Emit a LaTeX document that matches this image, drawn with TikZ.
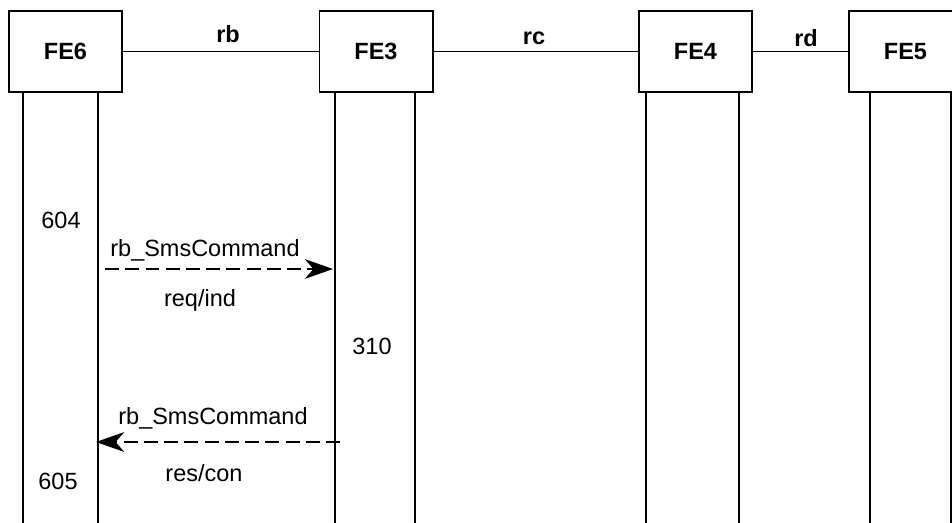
\documentclass[tikz,border=0pt]{standalone}
\usepackage{fontspec}
\setmainfont{Liberation Sans}
\usetikzlibrary{arrows.meta,positioning}
\newcommand{\fefont}{\fontsize{16.7pt}{20pt}\selectfont}
\tikzset{
  febox/.style={draw, line width=1.4pt, minimum width=2.825cm, minimum height=2.025cm,
                inner sep=0pt, font=\fefont\bfseries},
  ifline/.style={line width=1.4pt},
  iflabel/.style={font=\fefont\bfseries, anchor=base, inner sep=0pt},
  life/.style={line width=1.4pt},
  msg/.style={line width=1.4pt, dash pattern=on 9.8pt off 4.6pt,
              -{Stealth[length=20pt, width=14pt, inset=6pt]}},
  msgtxt/.style={font=\fefont, anchor=base, inner sep=0pt},
}

\begin{document}
\begin{tikzpicture}[x=0.025cm, y=-0.025cm]
\useasboundingbox (0,0) rectangle (952,523);

% --- Functional entities ---
\node[febox] (fe6) at (65.5,51.5) {FE6};
\node[febox] (fe3) at (376,51.5) {FE3};
\node[febox] (fe4) at (695.5,51.5) {FE4};
\node[febox] (fe5) at (905.5,51.5) {FE5};

% Relationships
\draw[ifline] (fe6.east) -- (fe3.west);
\draw[ifline] (fe3.east) -- (fe4.west);
\draw[ifline] (fe4.east) -- (fe5.west);
\node[iflabel] (rb) at (228,43) {rb};
\node[iflabel] (rc) at (534,45) {rc};
\node[iflabel] (rd) at (806,47) {rd};

% --- Lifelines ---
\coordinate (l6a) at (23,523);
\coordinate (l6b) at (98,523);
\coordinate (l3a) at (335,523);
\coordinate (l3b) at (415,523);
\coordinate (l4a) at (646,523);
\coordinate (l4b) at (739,523);
\coordinate (l5a) at (870,523);
\coordinate (l5b) at (951,523);
\foreach \fe/\l in {fe6/l6a, fe6/l6b, fe3/l3a, fe3/l3b, fe4/l4a, fe4/l4b, fe5/l5a, fe5/l5b}
  \draw[life] (\fe.south -| \l) -- (\l);

% --- Request ---
\node[msgtxt] (a604) at (61,229) {604};
\coordinate (req-s) at (105,269);
\coordinate (req-e) at (333,269);
\draw[msg] (req-s) -- (req-e);
\node[msgtxt] (req-name) at (205,257) {rb\_SmsCommand};
\node[msgtxt] (req-kind) at (200,307) {req/ind};

\node[msgtxt] (a310) at (372,355) {310};

% --- Response ---
\coordinate (res-s) at (340,442);
\coordinate (res-e) at (96,442);
\draw[msg] (res-s) -- (res-e);
\node[msgtxt] (res-name) at (213,425) {rb\_SmsCommand};
\node[msgtxt] (res-kind) at (204,481) {res/con};
\node[msgtxt] (a605) at (58,489) {605};

\end{tikzpicture}
\end{document}
